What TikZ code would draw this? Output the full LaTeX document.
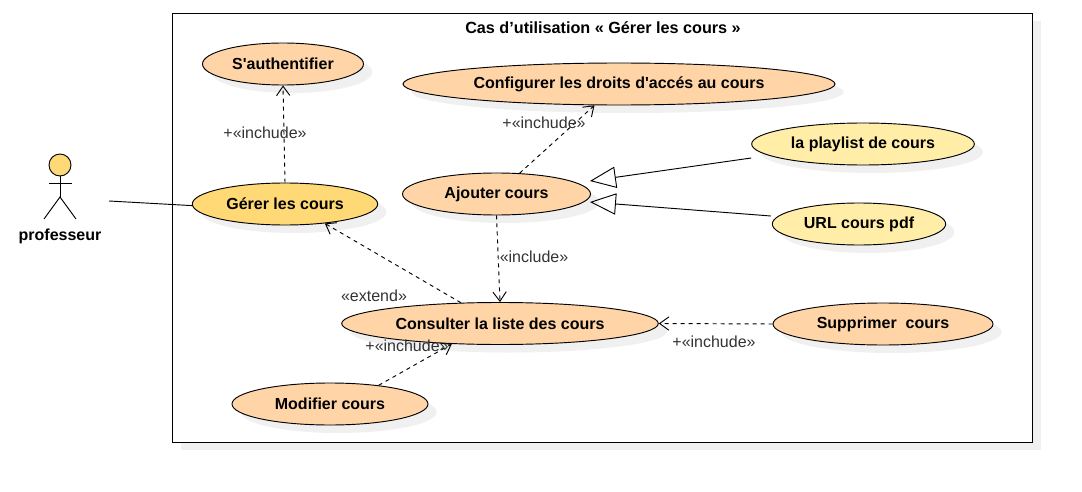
\documentclass[tikz,border=0pt]{standalone}
\usepackage{fontspec}
\defaultfontfeatures[\rmfamily]{}
\setmainfont{Liberation Sans}
\usetikzlibrary{arrows.meta,positioning,shapes.geometric,shadows,calc}
\definecolor{peach}{HTML}{FFD5A8}
\definecolor{gold}{HTML}{FFD976}
\definecolor{paleyellow}{HTML}{FFEDA8}
\definecolor{labelgray}{HTML}{333333}
\newcommand{\bodyfont}{\fontsize{12}{14}\selectfont}
\tikzset{
  softshadow/.style={drop shadow={shadow xshift=6.5pt,shadow yshift=-6pt,fill=black!6,opacity=1}},
  usecase/.style={ellipse,draw=black,line width=0.7pt,fill=peach,softshadow,inner sep=0pt,minimum height=31.5pt,font=\bodyfont\bfseries},
  sysbox/.style={rectangle,draw=black,line width=0.6pt,fill=white,softshadow,inner sep=0pt},
  actorline/.style={draw=black,line width=0.7pt},
  assoc/.style={line width=0.7pt},
  depend/.style={line width=0.7pt,dash pattern=on 3pt off 3pt,-{Straight Barb[length=7pt,width=10pt]}},
  general/.style={line width=0.7pt,-{Triangle[open,length=19.5pt,width=16pt]}},
  deplabel/.style={text=labelgray,inner sep=0pt,font=\bodyfont}
}
\begin{document}
\begin{tikzpicture}[x=0.75pt,y=-0.75pt]
    \useasboundingbox (0,0) rectangle (1082,492);
    \node[sysbox,minimum width=645pt,minimum height=321.75pt] (sys) at (602,227.5) {};
    \node[inner sep=0pt,font=\fontsize{12.15}{14}\selectfont\bfseries] (title) at (603,27.5) {Cas d’utilisation « Gérer les cours »};
    \node[usecase,minimum width=120.75pt] (auth) at (283,64) {S'authentifier};
    \node[usecase,minimum width=324pt] (config) at (619,84) {Configurer les droits d'accés au cours};
    \node[usecase,minimum width=167pt,fill=paleyellow] (playlist) at (863,144) {la playlist de cours};
    \node[usecase,minimum width=141pt] (ajout) at (496.5,194) {Ajouter cours};
    \node[usecase,minimum width=139pt,fill=gold] (gerer) at (285,204) {Gérer les cours};
    \node[usecase,minimum width=130pt,fill=paleyellow] (url) at (859,224) {URL cours pdf};
    \node[usecase,minimum width=237.5pt] (consult) at (500,323.5) {Consulter la liste des cours};
    \node[usecase,minimum width=165pt] (suppr) at (883,324) {Supprimer\ \ cours};
    \node[usecase,minimum width=147pt] (modif) at (330,404) {Modifier cours};
    \node[circle,actorline,fill=gold,minimum size=16.5pt,inner sep=0pt] (head) at (60,165) {};
    \coordinate (neck) at (60,197);
    \coordinate (armleft) at (49,183);
    \coordinate (armright) at (72,183);
    \coordinate (footleft) at (44,219);
    \coordinate (footright) at (76,219);
    \node[inner sep=0pt,font=\bodyfont\bfseries] (prof) at (60,236) {professeur};
    \draw[actorline] (head) -- (neck);
    \draw[actorline] (armleft) -- (armright);
    \draw[actorline] (footleft) -- (neck) -- (footright);
    \coordinate (hand) at (109,201);
    \coordinate (playfoot) at ($(playlist.west)+(0,14)$);
    \coordinate (urlfoot) at ($(url.west)+(-1,-8)$);
    \coordinate (playtip) at ($(ajout.east)+(-1,-13)$);
    \coordinate (urltip) at ($(ajout.east)+(-1,8)$);
    \draw[assoc] (hand) -- (gerer.181);
    \draw[depend] (gerer.north) -- (auth.south);
    \draw[depend] (ajout.42) -- (config.221);
    \draw[depend] (ajout.south) -- (consult.north);
    \draw[depend] (consult.152.5) -- (gerer.334.5);
    \draw[depend] (modif.21) -- (consult.203.6);
    \draw[depend] (suppr.west) -- (consult.east);
    \draw[general] (playfoot) -- (playtip);
    \draw[general] (urlfoot) -- (urltip);
    \node[deplabel] (incauth) at (265,132.5) {+«inchude»};
    \node[deplabel] (incconfig) at (544,122.5) {+«inchude»};
    \node[deplabel] (inclist) at (534,256.5) {«include»};
    \node[deplabel] (extlist) at (374,295.5) {«extend»};
    \node[deplabel] (incmodif) at (407,345.5) {+«inchude»};
    \node[deplabel] (incsuppr) at (714,341.5) {+«inchude»};
  \end{tikzpicture}
\end{document}
